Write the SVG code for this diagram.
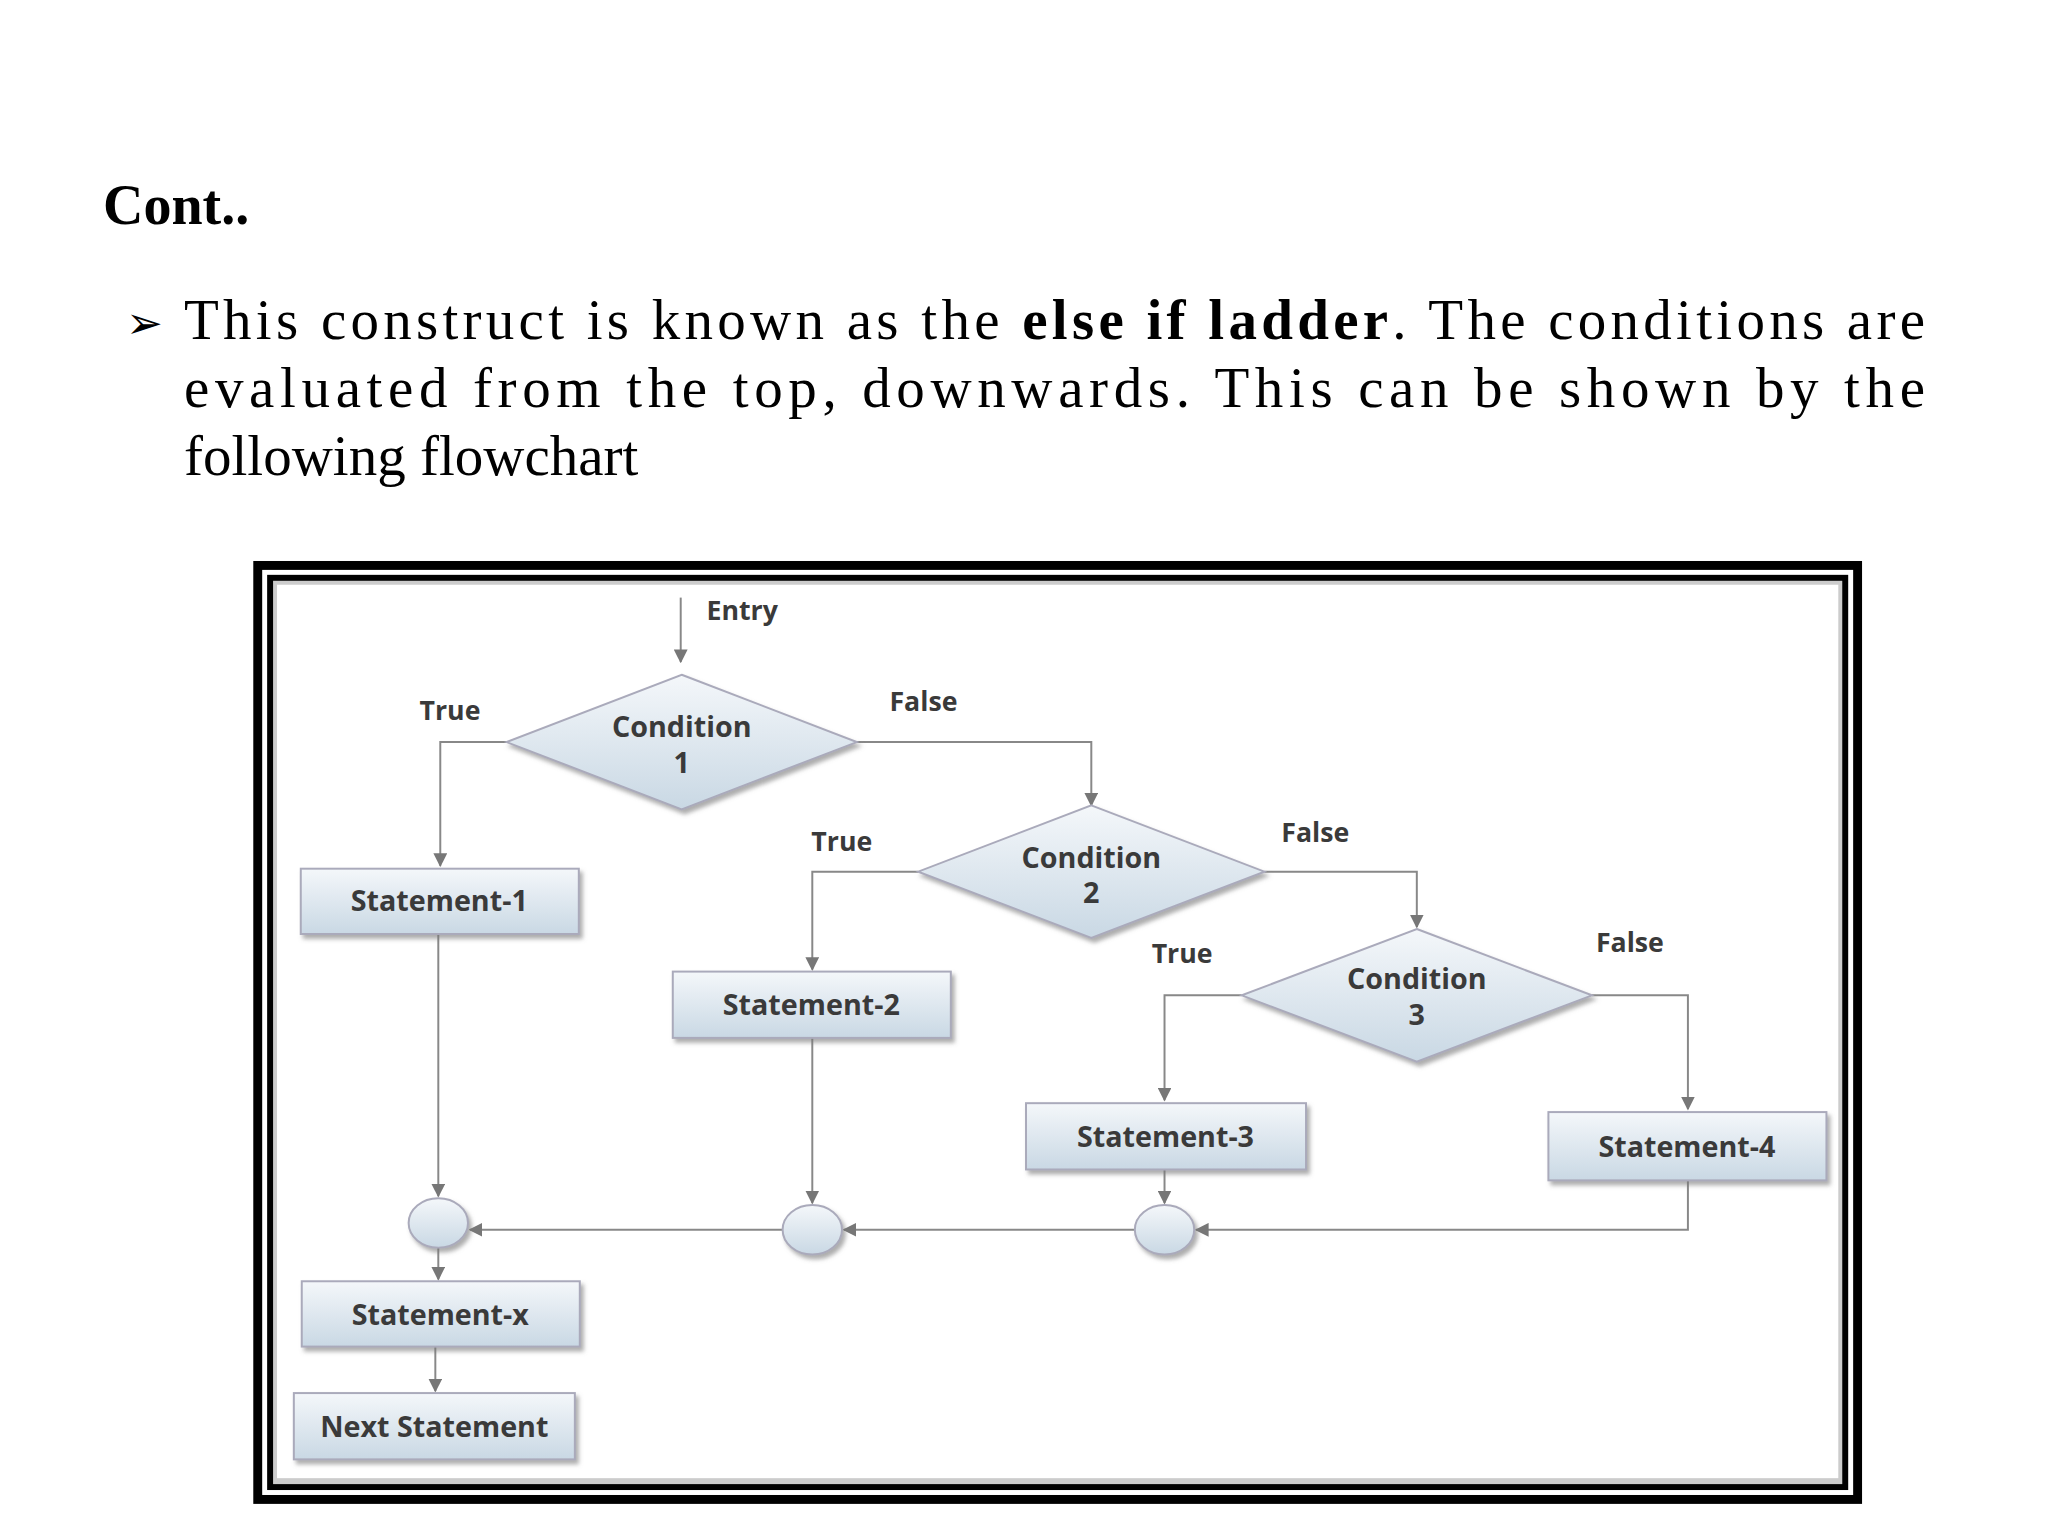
<svg xmlns="http://www.w3.org/2000/svg" width="2048" height="1536" viewBox="0 0 2048 1536">
<defs>
<linearGradient id="g" x1="0" y1="0" x2="0" y2="1"><stop offset="0" stop-color="#f4f7fa"/><stop offset="1" stop-color="#c9d8e4"/></linearGradient>
<marker id="a" viewBox="0 0 10 10" refX="9" refY="5" markerWidth="14" markerHeight="14" markerUnits="userSpaceOnUse" orient="auto"><path d="M0,0 L10,5 L0,10 z" fill="#777"/></marker>
<filter id="s" x="-10%" y="-10%" width="130%" height="140%"><feDropShadow dx="3" dy="4" stdDeviation="2" flood-color="#777" flood-opacity="0.6"/></filter>
</defs>
<style>
.n{fill:url(#g);stroke:#aab;stroke-width:2;filter:url(#s)}
.t{font-family:"Open Sans",sans-serif;font-weight:700;font-size:29px;fill:#3a3a3a;text-anchor:middle}
.l{font-family:"Open Sans",sans-serif;font-weight:700;font-size:27px;fill:#3a3a3a}
.c{fill:none;stroke:#888;stroke-width:2;marker-end:url(#a)}
.p{font-family:"Liberation Serif",serif;font-size:57px;fill:#000}
</style>
<rect width="2048" height="1536" fill="#fff"/>
<text x="103" y="224" font-family="Liberation Serif,serif" font-weight="700" font-size="56">Cont..</text>
<text x="126" y="338" font-family="DejaVu Sans,sans-serif" font-size="44">➢</text>
<text class="p" x="184" y="339" textLength="1741" lengthAdjust="spacing">This construct is known as the <tspan font-weight="700">else if ladder</tspan>. The conditions are</text>
<text class="p" x="184" y="407" textLength="1741" lengthAdjust="spacing">evaluated from the top, downwards. This can be shown by the</text>
<text class="p" x="184" y="475">following flowchart</text>
<g transform="scale(0.9894)">
<g id="frame">
<rect x="256" y="567" width="1626" height="953" fill="#000"/>
<rect x="265" y="576" width="1608" height="935" fill="#fff"/>
<rect x="270" y="581" width="1598" height="925" fill="#000"/>
<rect x="276" y="587" width="1586" height="913" fill="#ccc"/>
<rect x="280" y="591" width="1578" height="903" fill="#fff"/>
</g>
<g id="connectors">
<path class="c" d="M688,604 V669"/>
<path class="c" d="M512,750 H445 V875"/>
<path class="c" d="M866,750 H1103 V814"/>
<path class="c" d="M928,881 H821 V980"/>
<path class="c" d="M1278,881 H1432 V937"/>
<path class="c" d="M1255,1006 H1177 V1112"/>
<path class="c" d="M1609,1006 H1706 V1121"/>
<path class="c" d="M443,944 V1209"/>
<path class="c" d="M821,1049 V1216"/>
<path class="c" d="M1177,1182 V1216"/>
<path class="c" d="M1706,1193 V1243 H1209"/>
<path class="c" d="M1147,1243 H853"/>
<path class="c" d="M791,1243 H475"/>
<path class="c" d="M443,1261 V1293"/>
<path class="c" d="M440,1361 V1406"/>
</g>
<g id="entry"><text class="l" x="714" y="627">Entry</text></g>
<g id="cond1"><polygon class="n" points="689,682 866,750 689,818 512,750"/><text class="t" x="689" y="745">Condition</text><text class="t" x="689" y="781">1</text></g>
<text class="l" x="424" y="728">True</text><text class="l" x="899" y="719">False</text>
<g id="cond2"><polygon class="n" points="1103,814 1278,881 1103,948 928,881"/><text class="t" x="1103" y="877">Condition</text><text class="t" x="1103" y="913">2</text></g>
<text class="l" x="820" y="860">True</text><text class="l" x="1295" y="851">False</text>
<g id="cond3"><polygon class="n" points="1432,939 1609,1006 1432,1073 1255,1006"/><text class="t" x="1432" y="1000">Condition</text><text class="t" x="1432" y="1036">3</text></g>
<text class="l" x="1164" y="973">True</text><text class="l" x="1613" y="962">False</text>
<g id="s1"><rect class="n" x="304" y="878" width="281" height="66"/><text class="t" x="444" y="921">Statement-1</text></g>
<g id="s2"><rect class="n" x="680" y="982" width="281" height="67"/><text class="t" x="820" y="1026">Statement-2</text></g>
<g id="s3"><rect class="n" x="1037" y="1115" width="283" height="67"/><text class="t" x="1178" y="1159">Statement-3</text></g>
<g id="s4"><rect class="n" x="1565" y="1124" width="281" height="69"/><text class="t" x="1705" y="1169">Statement-4</text></g>
<g id="j1"><ellipse class="n" cx="443" cy="1236" rx="30" ry="25"/></g>
<g id="j2"><ellipse class="n" cx="821" cy="1243" rx="30" ry="25"/></g>
<g id="j3"><ellipse class="n" cx="1177" cy="1243" rx="30" ry="25"/></g>
<g id="sx"><rect class="n" x="305" y="1295" width="281" height="66"/><text class="t" x="445" y="1339">Statement-x</text></g>
<g id="next"><rect class="n" x="297" y="1408" width="284" height="67"/><text class="t" x="439" y="1452">Next Statement</text></g>
</g>
</svg>
